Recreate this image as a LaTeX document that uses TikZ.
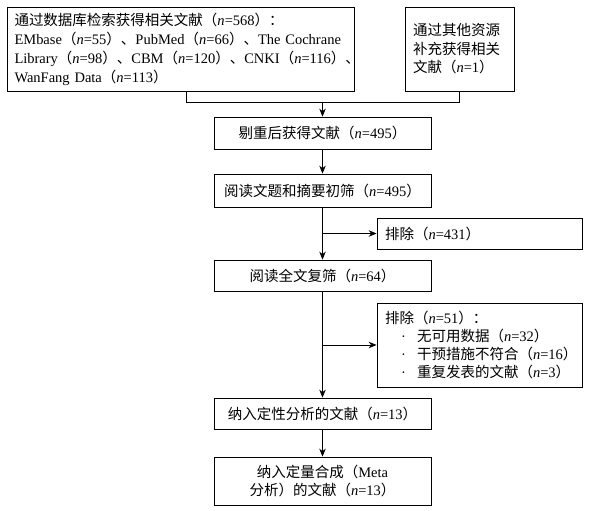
\documentclass[tikz,border=0pt]{standalone}
\usepackage{fontspec}
\setmainfont{Liberation Serif}
\newfontfamily\cjk{Noto Sans CJK SC}
\usetikzlibrary{arrows.meta, positioning}
\newcommand{\nn}[1]{{\cjk （}\textit{n}=#1{\cjk ）}}

\begin{document}
\begin{tikzpicture}[x=1pt, y=-1pt, box/.style={draw, line width=0.8pt, inner sep=0pt, font=\fontsize{14.5}{18.5}\selectfont}, flow/.style={-{Stealth[length=8pt, width=6.5pt]}, line width=0.8pt}, link/.style={line width=0.8pt}]
\useasboundingbox (0,0) rectangle (592,511);

\node[box, minimum width=347pt, minimum height=84pt, text width=333pt, align=left, font=\fontsize{14.5}{19}\selectfont] (db) at (181,49) {{\cjk 通过数据库检索获得相关文献（}\textit{n}=568{\cjk ）：}\\EMbase\nn{55}{\cjk 、}PubMed\nn{66}{\cjk 、}The Cochrane\\Library\nn{98}{\cjk 、}CBM\nn{120}{\cjk 、}CNKI\nn{116}{\cjk 、}\\WanFang Data\nn{113}};
\node[box, minimum width=109pt, minimum height=84pt, text width=93pt, align=left] (other) at (459.5,49) {{\cjk 通过其他资源}\\{\cjk 补充获得相关}\\{\cjk 文献}\nn{1}};

\coordinate (mL) at (186,102); \coordinate (mR) at (459.5,102); \coordinate (mC) at (322.5,102);
\draw[link] (db.south -| mL) -- (mL) -- (mR) -- (other.south);

\node[box, minimum width=217pt, minimum height=32pt] (dedup) at (322.5,133) {{\cjk 剔重后获得文献}\nn{495}};
\node[box, minimum width=217pt, minimum height=33pt] (screen) at (322.5,190.5) {{\cjk 阅读文题和摘要初筛}\nn{495}};
\node[box, minimum width=205pt, minimum height=31pt, text width=189pt, align=left] (ex1) at (479.5,233.5) {{\cjk 排除}\nn{431}};
\node[box, minimum width=217pt, minimum height=31pt] (full) at (322.5,275.5) {{\cjk 阅读全文复筛}\nn{64}};
\node[box, minimum width=205pt, minimum height=84pt, text width=189pt, align=left, font=\fontsize{14.5}{17.7}\selectfont] (ex2) at (479.5,345) {{\cjk 排除}\nn{51}{\cjk ：}\\
\hspace*{16pt}\makebox[16pt][l]{·}{\cjk 无可用数据}\nn{32}\\
\hspace*{16pt}\makebox[16pt][l]{·}{\cjk 干预措施不符合}\nn{16}\\
\hspace*{16pt}\makebox[16pt][l]{·}{\cjk 重复发表的文献}\nn{3}};
\node[box, minimum width=217pt, minimum height=31pt] (qual) at (322.5,413.5) {{\cjk 纳入定性分析的文献}\nn{13}};
\node[box, minimum width=217pt, minimum height=48pt, align=center] (meta) at (322.5,481) {{\cjk 纳入定量合成（}Meta\\{\cjk 分析）的文献}\nn{13}};

% main flow
\draw[flow] (mC) -- (dedup);
\draw[flow] (dedup) -- (screen);
\draw[flow] (screen) -- (full);
\draw[flow] (full) -- (qual);
\draw[flow] (qual) -- (meta);
% exclusions
\coordinate (b1) at (screen.south |- ex1.west); \coordinate (b2) at (full.south |- ex2.west);
\draw[flow] (b1) -- (ex1.west);
\draw[flow] (b2) -- (ex2.west);
\end{tikzpicture}
\end{document}
